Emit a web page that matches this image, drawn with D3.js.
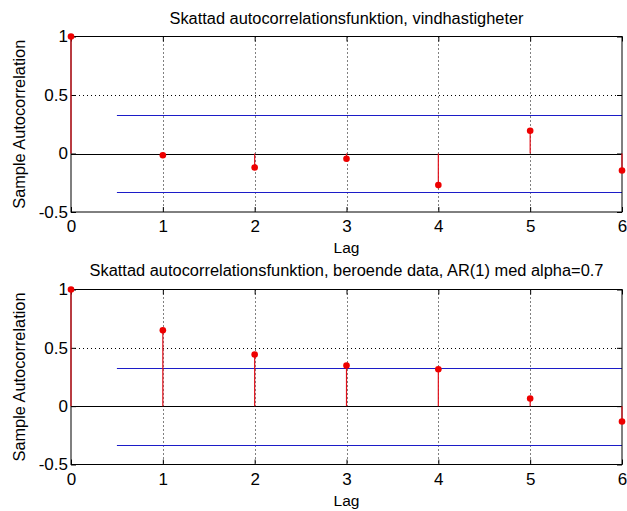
<!DOCTYPE html>
<html>
<head>
<meta charset="utf-8">
<script src="https://cdn.jsdelivr.net/npm/d3@7"></script>
<style>
  body { margin: 0; background: #fff; }
  text { font-family: "Liberation Sans", Arial, sans-serif; fill: #000; }
</style>
</head>
<body>
<div id="chart"></div>
<script>
// data
var lags = [0, 1, 2, 3, 4, 5, 6]
var acfWind = [1, -0.015, -0.12, -0.045, -0.27, 0.195, -0.145]
var acfAR = [1, 0.65, 0.443, 0.349, 0.317, 0.066, -0.131]
var yTicks = [-0.5, 0, 0.5, 1]
var yTickLabels = ["-0.5", "0", "0.5", "1"]
var confBound = 0.33
var titles = [
  "Skattad autocorrelationsfunktion, vindhastigheter",
  "Skattad autocorrelationsfunktion, beroende data, AR(1) med alpha=0.7"
]

var width = 627, height = 511

const svg = d3.select("#chart")
  .append("svg")
    .attr("width", width)
    .attr("height", height)

// one panel per acf
var panels = [
  {values: acfWind, top: 36.5, bottom: 212, title: titles[0], titleW: 354, titleDy: 12.5},
  {values: acfAR, top: 289.5, bottom: 464.5, title: titles[1], titleW: 514, titleDy: 14}
]

panels.forEach(p => {
  const x = d3.scaleLinear().domain([0, 6]).range([71, 622])
  const y = d3.scaleLinear().domain([-0.5, 1]).range([p.bottom, p.top])
  const g = svg.append("g")

  // dotted grid
  g.selectAll(".vgrid")
    .data(lags.filter(d => d > 0 && d < 6))
    .join("line")
      .attr("x1", d => Math.round(x(d)) + 0.5)
      .attr("x2", d => Math.round(x(d)) + 0.5)
      .attr("y1", y(1))
      .attr("y2", y(-0.5))
      .attr("stroke", "#000")
      .attr("stroke-dasharray", "1,3")
  g.selectAll(".hgrid")
    .data([0.5])
    .join("line")
      .attr("x1", x(0))
      .attr("x2", x(6))
      .attr("y1", d => Math.round(y(d)) + 0.5)
      .attr("y2", d => Math.round(y(d)) + 0.5)
      .attr("stroke", "#000")
      .attr("stroke-dasharray", "1,3")

  // confidence bounds
  g.selectAll(".bound")
    .data([confBound, -confBound])
    .join("line")
      .attr("x1", x(0.5))
      .attr("x2", x(6))
      .attr("y1", d => Math.round(y(d)) + 0.5)
      .attr("y2", d => Math.round(y(d)) + 0.5)
      .attr("stroke", "#1c1cc8")
      .attr("stroke-width", 1.2)

  // zero line
  g.append("line")
    .attr("x1", x(0)).attr("x2", x(6))
    .attr("y1", Math.round(y(0)) + 0.5).attr("y2", Math.round(y(0)) + 0.5)
    .attr("stroke", "#000")

  // axes with inward ticks
  const xAxis = d3.axisBottom(x).tickValues(lags).tickSize(-5).tickPadding(8).tickFormat(d3.format("d"))
  const xAxisTop = d3.axisTop(x).tickValues(lags).tickSize(-5).tickFormat("")
  const yAxis = d3.axisLeft(y).tickValues(yTicks).tickSize(-5).tickPadding(3)
    .tickFormat((d, i) => yTickLabels[i])
  const yAxisRight = d3.axisRight(y).tickValues(yTicks).tickSize(-5).tickFormat("")

  const ax = [
    g.append("g").attr("transform", `translate(0,${p.bottom})`).call(xAxis),
    g.append("g").attr("transform", `translate(0,${p.top})`).call(xAxisTop),
    g.append("g").attr("transform", "translate(71,0)").call(yAxis),
    g.append("g").attr("transform", "translate(622,0)").call(yAxisRight)
  ]
  ax.forEach(a => {
    a.select(".domain").remove()
    a.selectAll("line").attr("stroke", "#000")
    a.selectAll("text")
      .style("font-size", "17px")
      .style("font-family", "Liberation Sans, Arial, sans-serif")
  })

  // box
  g.append("rect")
    .attr("x", x(0)).attr("y", p.top)
    .attr("width", x(6) - x(0)).attr("height", p.bottom - p.top)
    .attr("fill", "none").attr("stroke", "#000")

  // stems
  g.selectAll(".stem")
    .data(p.values)
    .join("line")
      .attr("x1", (d, i) => x(lags[i]))
      .attr("x2", (d, i) => x(lags[i]))
      .attr("y1", y(0))
      .attr("y2", d => y(d))
      .attr("stroke", "#e0101a")
      .attr("stroke-width", 1.2)
  g.selectAll(".dot")
    .data(p.values)
    .join("circle")
      .attr("cx", (d, i) => x(lags[i]))
      .attr("cy", d => y(d))
      .attr("r", 3.3)
      .attr("fill", "#ee0000")

  // labels
  g.append("text")
    .attr("x", (x(0) + x(6)) / 2)
    .attr("y", p.top - p.titleDy)
    .attr("text-anchor", "middle")
    .attr("textLength", p.titleW)
    .attr("lengthAdjust", "spacingAndGlyphs")
    .style("font-size", "16px")
    .text(p.title)
  g.append("text")
    .attr("x", (x(0) + x(6)) / 2)
    .attr("y", p.bottom + 41)
    .attr("text-anchor", "middle")
    .style("font-size", "15.5px")
    .text("Lag")
  g.append("text")
    .attr("transform", `translate(25,${(p.top + p.bottom) / 2}) rotate(-90)`)
    .attr("text-anchor", "middle")
    .attr("textLength", 169)
    .attr("lengthAdjust", "spacingAndGlyphs")
    .style("font-size", "16px")
    .text("Sample Autocorrelation")
})
</script>
</body>
</html>
